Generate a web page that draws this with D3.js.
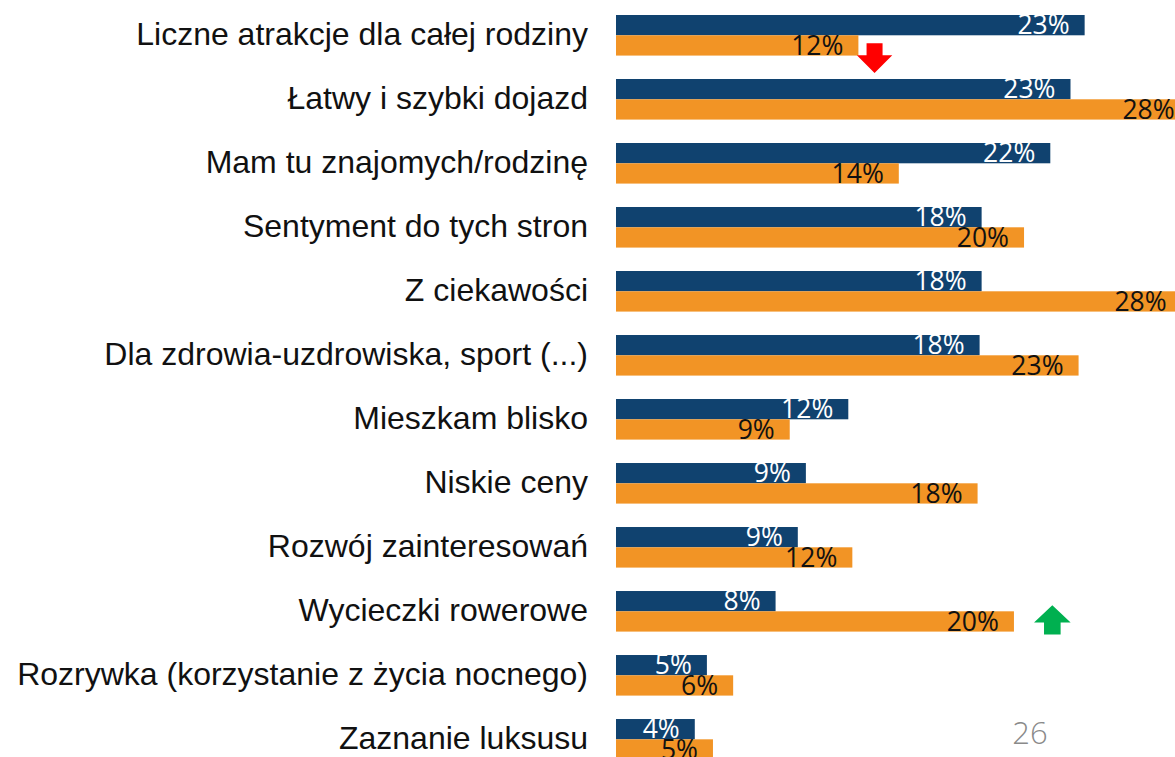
<!DOCTYPE html>
<html lang="pl">
<head>
    <meta charset="UTF-8">
    <title>Powody przyjazdu</title>
    <script src="https://d3js.org/d3.v7.min.js"></script>
    <style>
        body {
            margin: 0;
            background-color: white;
            overflow: hidden;
        }
        .cat-label {
            font-family: "Liberation Sans", Arial, sans-serif;
            font-size: 32px;
            fill: #111;
        }
        .val-label {
            font-family: "Open Sans", sans-serif;
            font-size: 26.5px;
        }
        .page-num {
            font-family: "Open Sans", sans-serif;
            font-weight: 300;
            font-size: 31px;
            fill: #8a8a8a;
        }
    </style>
</head>
<body>
    <div id="chart"></div>

    <script>
        // categories, top to bottom
        const categories = [
            "Liczne atrakcje dla całej rodziny",
            "Łatwy i szybki dojazd",
            "Mam tu znajomych/rodzinę",
            "Sentyment do tych stron",
            "Z ciekawości",
            "Dla zdrowia-uzdrowiska, sport (...)",
            "Mieszkam blisko",
            "Niskie ceny",
            "Rozwój zainteresowań",
            "Wycieczki rowerowe",
            "Rozrywka (korzystanie z życia nocnego)",
            "Zaznanie luksusu"
        ];

        // percent values
        const blueValues = [23.2, 22.5, 21.5, 18.1, 18.1, 18.0, 11.5, 9.4, 9.0, 7.9, 4.5, 3.9];
        const orangeValues = [12.0, 28.4, 14.0, 20.2, 28.0, 22.9, 8.6, 17.9, 11.7, 19.7, 5.8, 4.8];

        // change markers (category, direction, position on the % axis)
        const markerCats = ["Liczne atrakcje dla całej rodziny", "Wycieczki rowerowe"];
        const markerDirs = ["down", "up"];
        const markerAt = [12.8, 21.6];

        const pageNumber = "26";

        const width = 1175, height = 757;
        const blue = "#10426f", orange = "#f29425";

        const svg = d3.select("#chart")
            .append("svg")
            .attr("width", width)
            .attr("height", height);

        const x = d3.scaleLinear()
            .domain([0, 28])
            .range([616, 616 + 28 * 20.2]);

        const y = d3.scaleBand()
            .domain(categories)
            .range([15, 759.6])
            .paddingInner(0.366)
            .paddingOuter(0);

        const ySub = d3.scaleBand()
            .domain(["blue", "orange"])
            .range([0, y.bandwidth()]);

        const rows = categories.map((c, i) => ({
            cat: c,
            bars: [
                { key: "blue", v: blueValues[i] },
                { key: "orange", v: orangeValues[i] }
            ]
        }));

        // category labels
        svg.selectAll(".cat-label")
            .data(rows)
            .enter()
            .append("text")
            .attr("class", "cat-label")
            .attr("x", 588)
            .attr("y", d => y(d.cat) + ySub.bandwidth() + 10)
            .attr("text-anchor", "end")
            .text(d => d.cat);

        const groups = svg.selectAll(".row")
            .data(rows)
            .enter()
            .append("g")
            .attr("class", "row")
            .attr("transform", d => `translate(0,${y(d.cat)})`);

        groups.selectAll("rect")
            .data(d => d.bars)
            .enter()
            .append("rect")
            .attr("x", x(0))
            .attr("y", d => ySub(d.key))
            .attr("width", d => x(d.v) - x(0))
            .attr("height", ySub.bandwidth())
            .attr("fill", d => d.key === "blue" ? blue : orange);

        groups.selectAll(".val-label")
            .data(d => d.bars)
            .enter()
            .append("text")
            .attr("class", "val-label")
            .attr("x", d => x(d.v) - 15)
            .attr("y", d => ySub(d.key) + ySub.bandwidth() - 1)
            .attr("text-anchor", "end")
            .attr("fill", d => d.key === "blue" ? "white" : "#111")
            .text(d => Math.round(d.v) + "%");

        // change arrows
        markerCats.forEach((c, i) => {
            const cx = x(markerAt[i]);
            const down = markerDirs[i] === "down";
            const y0 = down ? y(c) + ySub.bandwidth() + 8 : y(c) + ySub.bandwidth() - 6;
            let pts;
            if (down) {
                pts = [[cx - 8, y0], [cx + 8, y0], [cx + 8, y0 + 12], [cx + 17.7, y0 + 12],
                       [cx, y0 + 29.7], [cx - 17.7, y0 + 12], [cx - 8, y0 + 12]];
            } else {
                pts = [[cx, y0], [cx + 18.3, y0 + 17.3], [cx + 8.3, y0 + 17.3], [cx + 8.3, y0 + 29.3],
                       [cx - 8.3, y0 + 29.3], [cx - 8.3, y0 + 17.3], [cx - 18.3, y0 + 17.3]];
            }
            svg.append("polygon")
                .attr("points", pts.map(p => p.join(",")).join(" "))
                .attr("fill", down ? "#ff0000" : "#00b050");
        });

        svg.append("text")
            .attr("class", "page-num")
            .attr("x", 1030)
            .attr("y", 744)
            .attr("text-anchor", "middle")
            .text(pageNumber);
    </script>
</body>
</html>
